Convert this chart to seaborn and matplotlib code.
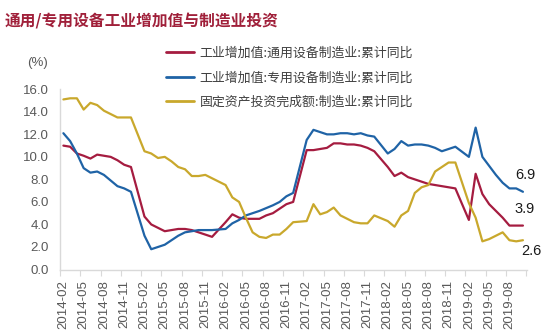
import numpy as np
import pandas as pd
import matplotlib
matplotlib.use("Agg")
import matplotlib.pyplot as plt
from matplotlib.font_manager import FontProperties
import seaborn as sns

# ---------------- data ----------------
months = pd.date_range("2014-02-01", "2019-10-01", freq="MS").strftime("%Y-%m").tolist()
tick_labels = ["2014-02", "2014-05", "2014-08", "2014-11", "2015-02", "2015-05", "2015-08",
               "2015-11", "2016-02", "2016-05", "2016-08", "2016-11", "2017-02", "2017-05",
               "2017-08", "2017-11", "2018-02", "2018-05", "2018-08", "2018-11", "2019-02",
               "2019-05", "2019-08"]
nan = np.nan
general = [11.0, 10.9, 10.3, 10.1, 9.85, 10.2, 10.1, 10.0, 9.7, 9.3, 9.1, nan,
           4.7, 4.0, 3.7, 3.4, 3.5, 3.6, 3.6, 3.5, 3.3, 3.1, 2.9, nan,
           4.2, 4.9, 4.6, 4.5, 4.5, 4.5, 4.8, 5.0, 5.4, 5.8, 6.0, nan,
           10.6, 10.6, 10.7, 10.8, 11.2, 11.2, 11.1, 11.1, 11.0, 10.8, 10.5, nan,
           9.1, 8.3, 8.6, 8.2, 8.0, 7.8, 7.6, 7.5, 7.4, 7.3, 7.2, nan,
           4.4, 8.5, 6.7, 5.8, 5.2, 4.6, 3.9, 3.9, 3.9]
special = [12.1, 11.4, 10.3, 9.0, 8.6, 8.7, 8.4, 7.9, 7.4, 7.2, 6.9, nan,
           3.0, 1.8, 2.0, 2.2, 2.6, 3.0, 3.3, 3.4, 3.5, 3.5, 3.5, nan,
           3.6, 4.1, 4.4, 4.8, 5.0, 5.2, 5.45, 5.7, 6.0, 6.5, 6.8, nan,
           11.5, 12.4, 12.2, 12.0, 12.0, 12.1, 12.1, 12.0, 12.1, 11.9, 11.8, nan,
           10.3, 10.7, 11.4, 11.0, 11.1, 11.1, 11.0, 10.8, 10.5, 10.7, 10.9, nan,
           10.0, 12.6, 10.0, 9.2, 8.4, 7.7, 7.2, 7.2, 6.9]
fai = [15.1, 15.2, 15.2, 14.2, 14.8, 14.6, 14.1, 13.8, 13.5, 13.5, 13.5, nan,
       10.5, 10.3, 9.9, 10.0, 9.6, 9.1, 8.9, 8.3, 8.3, 8.4, 8.1, nan,
       7.5, 6.4, 6.0, 4.6, 3.3, 2.9, 2.8, 3.1, 3.1, 3.6, 4.2, nan,
       4.3, 5.8, 4.9, 5.1, 5.5, 4.8, 4.5, 4.2, 4.1, 4.1, 4.8, nan,
       4.3, 3.8, 4.8, 5.2, 6.8, 7.3, 7.5, 8.7, 9.1, 9.5, 9.5, nan,
       5.9, 4.6, 2.5, 2.7, 3.0, 3.3, 2.6, 2.5, 2.6]
series_names = ["工业增加值:通用设备制造业:累计同比",
                "工业增加值:专用设备制造业:累计同比",
                "固定资产投资完成额:制造业:累计同比"]
colors = ["#A51C40", "#1F63A6", "#C9A82C"]

frames = []
for name, vals in zip(series_names, [general, special, fai]):
    frames.append(pd.DataFrame({"idx": np.arange(len(months)), "month": months,
                                "value": vals, "series": name}))
df = pd.concat(frames, ignore_index=True).dropna()

# ---------------- plot ----------------
sns.set_theme(style="white")
plt.rcParams["font.family"] = ["Liberation Sans", "Noto Sans CJK SC", "DejaVu Sans"]

fig = plt.figure(figsize=(5.5, 3.34), dpi=100)
ax = fig.add_axes([60 / 550, 1 - 269.5 / 334, 467 / 550, (269.5 - 89.3) / 334])

sns.lineplot(data=df, x="idx", y="value", hue="series", hue_order=series_names,
             palette=colors, linewidth=1.6, ax=ax, legend=True, estimator=None, sort=True)

ax.set_xlim(-0.5, 68.6)
ax.set_ylim(0, 16)
ax.set_xlabel("")
ax.set_ylabel("")

# x ticks: marks between categories, labels at categories
label_pos = [months.index(t) for t in tick_labels]
ax.set_xticks([p - 0.5 for p in label_pos] + [label_pos[-1] + 2.5])
ax.set_xticklabels([])
ax.set_xticks(label_pos, minor=True)
ax.set_xticklabels(tick_labels, minor=True, rotation=90, fontsize=9.5, color="#595959")
ax.tick_params(axis="x", which="major", length=4, width=0.8, color="#D9D9D9", direction="out", bottom=True)
ax.tick_params(axis="x", which="minor", length=0, pad=7.5, bottom=True)

ax.set_yticks(np.arange(0, 16.1, 2))
ax.set_yticklabels([f"{v:.1f}" for v in np.arange(0, 16.1, 2)], fontsize=9.5, color="#595959")
ax.tick_params(axis="y", length=0, pad=8)

for s in ["top", "right"]:
    ax.spines[s].set_visible(False)
for s in ["left", "bottom"]:
    ax.spines[s].set_color("#D9D9D9")
    ax.spines[s].set_linewidth(1.0)
ax.grid(False)

# legend
handles, labels = ax.get_legend_handles_labels()
leg = ax.legend(handles, labels, loc="upper left",
                bbox_to_anchor=(166 / 550, 1 - 47 / 334), bbox_transform=fig.transFigure,
                frameon=False, prop=FontProperties(family="Noto Sans CJK SC", size=9.3),
                labelcolor="#404040", handlelength=2.2, handletextpad=0.4,
                labelspacing=0.88, borderaxespad=0, borderpad=0)
for h in leg.get_lines():
    h.set_linewidth(2.0)

# end value labels
last_idx = len(months) - 1
offsets = {0: (2, 17), 1: (2, 17), 2: (8, -11)}
for i, vals in enumerate([general, special, fai]):
    v = vals[-1]
    dx, dy = offsets[i]
    ax.annotate(f"{v:.1f}", xy=(last_idx, v), xytext=(dx, dy), textcoords="offset pixels",
                ha="center", va="center", fontsize=10.5, color="#1a1a1a", annotation_clip=False)

# titles
fig.text(5 / 550, 1 - 20 / 334, "通用/专用设备工业增加值与制造业投资", fontsize=11.3,
         fontweight="bold", color="#A0203A", va="center", ha="left",
         family=["Noto Sans CJK SC", "DejaVu Sans"])
fig.text(37 / 550, 1 - 63 / 334, "(%)", fontsize=9.5, color="#595959", va="center", ha="center")

fig.savefig("out.png", dpi=100, facecolor="white")
